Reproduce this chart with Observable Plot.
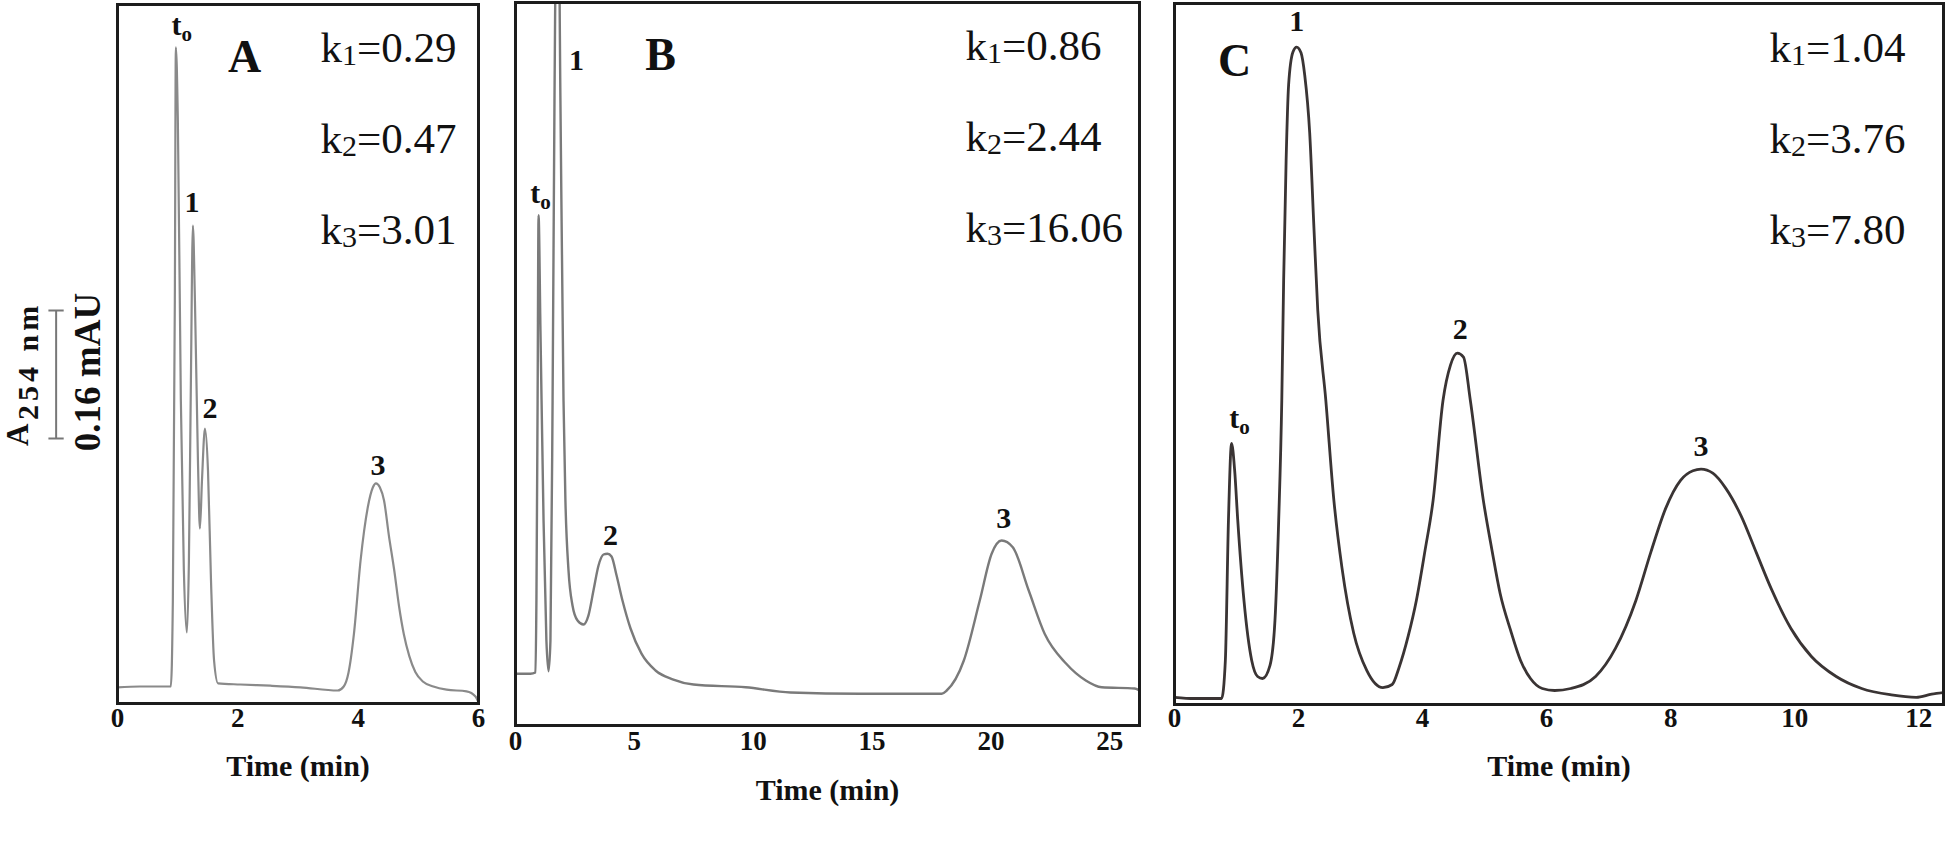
<!DOCTYPE html>
<html>
<head>
<meta charset="utf-8">
<script src="https://cdn.jsdelivr.net/npm/d3@7"></script>
<script src="https://cdn.jsdelivr.net/npm/@observablehq/plot@0.6"></script>
<style>
  html, body { margin: 0; padding: 0; background: #fff; overflow: hidden; }
  #wrap { position: relative; width: 1946px; height: 843px; overflow: hidden; background: #fff; }
  #wrap svg { position: absolute; left: 0; top: 0; }
</style>
</head>
<body>
<div id="wrap"></div>
<script>
// ---------------- DATA ----------------
// Panel A : time (min) and absorbance (mAU above baseline)
const timeA = [0, 0.37, 0.886, 0.92, 0.953, 0.97, 1.003, 1.053, 1.103, 1.153, 1.187, 1.22, 1.253, 1.287, 1.337, 1.37, 1.404, 1.454, 1.504, 1.554, 1.605, 1.671, 2.04, 2.54, 3.04, 3.66, 3.76, 3.84, 3.93, 4.04, 4.16, 4.245, 4.295, 4.36, 4.43, 4.51, 4.60, 4.68, 4.76, 4.85, 4.95, 5.08, 5.25, 5.47, 5.80, 5.95, 6.00];
const absA  = [-0.001, 0, 0, 0.1075, 0.4825, 0.799, 0.7075, 0.3575, 0.145, 0.0675, 0.1575, 0.3825, 0.576, 0.4825, 0.2825, 0.1975, 0.2575, 0.3225, 0.27, 0.1325, 0.0325, 0.004, 0.0025, 0.001, -0.001, -0.005, 0, 0.0175, 0.066, 0.1575, 0.224, 0.249, 0.254, 0.249, 0.2325, 0.189, 0.145, 0.10, 0.065, 0.038, 0.018, 0.006, 0.0, -0.004, -0.006, -0.0125, -0.02];

// Panel B
const timeB = [0, 0.63, 0.84, 0.88, 0.93, 0.97, 1.05, 1.18, 1.30, 1.39, 1.47, 1.56, 1.64, 1.77, 1.89, 2.02, 2.10, 2.23, 2.40, 2.61, 2.86, 3.07, 3.28, 3.49, 3.70, 3.87, 4.04, 4.25, 4.50, 4.84, 5.30, 5.89, 6.61, 7.49, 9.68, 11.57, 14.52, 17.93, 18.14, 18.86, 19.53, 20.03, 20.45, 20.92, 21.59, 22.26, 23.15, 23.99, 24.66, 26.05, 26.25];
const absB  = [0.021, 0.021, 0.0225, 0.1125, 0.3625, 0.594, 0.45, 0.2125, 0.0625, 0.024, 0.0625, 0.3625, 0.7375, 1.1125, 0.7375, 0.3625, 0.2375, 0.15, 0.106, 0.0875, 0.0825, 0.094, 0.125, 0.156, 0.17, 0.171, 0.1675, 0.144, 0.1125, 0.0775, 0.046, 0.025, 0.014, 0.0075, 0.004, -0.0025, -0.004, -0.004, 0, 0.0375, 0.1125, 0.171, 0.1875, 0.179, 0.125, 0.071, 0.034, 0.0125, 0.004, 0.0025, 0];

// Panel C
const timeC = [0, 0.32, 0.76, 0.82, 0.87, 0.92, 0.97, 1.02, 1.12, 1.245, 1.34, 1.42, 1.54, 1.62, 1.68, 1.73, 1.76, 1.80, 1.84, 1.91, 1.97, 2.04, 2.10, 2.18, 2.25, 2.31, 2.44, 2.57, 2.70, 2.89, 3.10, 3.36, 3.51, 3.62, 3.77, 3.90, 4.04, 4.17, 4.33, 4.45, 4.56, 4.66, 4.77, 4.98, 5.12, 5.25, 5.42, 5.58, 5.74, 5.93, 6.13, 6.39, 6.79, 7.11, 7.44, 7.68, 7.92, 8.16, 8.36, 8.49, 8.68, 8.89, 9.14, 9.38, 9.62, 9.94, 10.27, 10.67, 11.08, 11.56, 11.96, 12.21, 12.40];
const absC  = [0.004, 0.0025, 0.0025, 0.05, 0.225, 0.321, 0.2875, 0.225, 0.125, 0.05, 0.03, 0.0275, 0.044, 0.1, 0.225, 0.375, 0.525, 0.675, 0.769, 0.81, 0.816, 0.809, 0.781, 0.709, 0.5875, 0.4875, 0.375, 0.25, 0.166, 0.084, 0.0375, 0.016, 0.02, 0.041, 0.081, 0.125, 0.1875, 0.25, 0.375, 0.419, 0.434, 0.429, 0.375, 0.25, 0.1875, 0.134, 0.0875, 0.05, 0.0275, 0.015, 0.0125, 0.015, 0.03, 0.065, 0.125, 0.185, 0.24, 0.275, 0.287, 0.289, 0.284, 0.265, 0.23, 0.185, 0.14, 0.09, 0.055, 0.03, 0.015, 0.007, 0.004, 0.008, 0.01];

// Peaks (labels, apex time, apex height)
const peakLabels = ["t_o", "1", "2", "3"];
const peakTimeA = [0.97, 1.253, 1.454, 4.295];
const peakAbsA  = [0.799, 0.576, 0.3225, 0.254];
const peakTimeB = [0.97, 1.77, 3.87, 20.45];
const peakAbsB  = [0.594, 1.1125, 0.171, 0.1875];
const peakTimeC = [0.92, 1.97, 4.56, 8.49];
const peakAbsC  = [0.321, 0.816, 0.434, 0.289];

// Retention factors
const kA = ["0.29", "0.47", "3.01"];
const kB = ["0.86", "2.44", "16.06"];
const kC = ["1.04", "3.76", "7.80"];

// Tick labels
const ticksA = [0, 2, 4, 6];
const ticksB = [0, 5, 10, 15, 20, 25];
const ticksC = [0, 2, 4, 6, 8, 10, 12];

const panelLetters = ["A", "B", "C"];
const xLabel = "Time (min)";
const yLabelMain = "A";
const yLabelSub = "254 nm";
const scaleBarText = "0.16 mAU";
const scaleBarSize = 0.16;

// ---------------- LAYOUT ----------------
const W = 1946, H = 843;
const FONT = "'Liberation Serif', 'DejaVu Serif', 'Times New Roman', serif";

const layouts = [
  { frame: {left: 117, right: 478, top: 4, bottom: 703}, xDomain: [0, 6], yDomain: [-0.02125, 0.8525],
    color: "#8a8a8a", lw: 2.2, tickPad: 4, titleDy: 63, letterPos: [127, 53], kPos: [203, 44], kStep: 91,
    labelOff: [[6, -22], [-1, -23], [5, -20], [2, -18]] },
  { frame: {left: 515, right: 1139, top: 2, bottom: 725}, xDomain: [0, 26.25], yDomain: [-0.04375, 0.86],
    color: "#7a7a7a", lw: 2.4, tickPad: 5, titleDy: 65, letterPos: [145, 53], kPos: [450, 44], kStep: 91,
    labelOff: [[2, -22], [19, 260], [3, -18], [2, -22]] },
  { frame: {left: 1174, right: 1943, top: 3, bottom: 704}, xDomain: [0, 12.4], yDomain: [-0.005, 0.8706],
    color: "#3a3434", lw: 2.8, tickPad: 3, titleDy: 62, letterPos: [60, 58], kPos: [595, 45], kStep: 91,
    labelOff: [[8, -25], [0, -26], [3, -24], [0, -23]] }
];

const series = [
  {time: timeA, abs: absA, pt: peakTimeA, pa: peakAbsA, k: kA, ticks: ticksA},
  {time: timeB, abs: absB, pt: peakTimeB, pa: peakAbsB, k: kB, ticks: ticksB},
  {time: timeC, abs: absC, pt: peakTimeC, pa: peakAbsC, k: kC, ticks: ticksC}
];

function addSpan(el, txt, attrs) {
  const s = document.createElementNS("http://www.w3.org/2000/svg", "tspan");
  s.textContent = txt;
  if (attrs) for (const [k, v] of Object.entries(attrs)) s.setAttribute(k, v);
  el.appendChild(s);
}

function decorate(svg) {
  svg.querySelectorAll("text").forEach(el => {
    const s = el.textContent;
    const m = /^k(\d)=(.+)$/.exec(s);
    if (m) {
      el.textContent = "";
      addSpan(el, "k");
      addSpan(el, m[1], {"font-size": "30px", dy: "3"});
      addSpan(el, "=" + m[2], {dy: "-3"});
    } else if (s === "t_o") {
      el.textContent = "";
      addSpan(el, "t");
      addSpan(el, "o", {"font-size": "21px", dy: "6"});
    } else if (s === yLabelSub) {
      el.setAttribute("letter-spacing", "4");
    }
  });
  svg.querySelectorAll('g[aria-label="x-axis tick label"]').forEach(g => g.setAttribute("font-weight", "bold"));
}

const wrap = document.getElementById("wrap");

layouts.forEach((L, p) => {
  const S = series[p];
  const f = L.frame;
  const rows = S.time.map((t, i) => ({t, a: S.abs[i]}));
  const marks = [
    Plot.line(rows, {x: "t", y: "a", stroke: L.color, strokeWidth: L.lw, curve: "monotone-x", clip: true, strokeLinejoin: "round"}),
    Plot.frame({stroke: "#1c1c1c", strokeWidth: 3}),
    Plot.axisX({ticks: S.ticks, tickSize: 0, tickPadding: L.tickPad, fontSize: 27, fontWeight: "bold", label: null, tickFormat: d => String(d), fill: "#111"}),
    Plot.text([xLabel], {text: d => d, frameAnchor: "bottom", lineAnchor: "middle", textAnchor: "middle", dy: L.titleDy, fontSize: 30, fontWeight: "bold", fill: "#111"}),
    Plot.text([panelLetters[p]], {text: d => d, frameAnchor: "top-left", lineAnchor: "middle", textAnchor: "middle", dx: L.letterPos[0], dy: L.letterPos[1], fontSize: 46, fontWeight: "bold", fill: "#111"}),
    ...S.k.map((k, i) => Plot.text([`k${i + 1}=${k}`], {text: d => d, frameAnchor: "top-left", textAnchor: "start", lineAnchor: "middle", dx: L.kPos[0], dy: L.kPos[1] + i * L.kStep, fontSize: 43, fontWeight: "normal", fill: "#111"})),
    ...peakLabels.map((lab, i) => Plot.text([i], {x: j => S.pt[j], y: j => S.pa[j], text: () => lab, lineAnchor: "middle", textAnchor: "middle", dx: L.labelOff[i][0], dy: L.labelOff[i][1], fontSize: 30, fontWeight: "bold", fill: "#111"}))
  ];
  if (p === 0) {
    // scale bar (0.16 mAU) and y label, left of panel A
    const base = 0.31;
    marks.push(
      Plot.ruleX([-1.02], {y1: base, y2: base + scaleBarSize, stroke: "#777", strokeWidth: 2}),
      Plot.ruleY([base, base + scaleBarSize], {x1: -1.14, x2: -0.886, stroke: "#777", strokeWidth: 2}),
      Plot.text([yLabelMain], {text: d => d, frameAnchor: "left", rotate: -90, textAnchor: "start", lineAnchor: "middle", dx: -99, dy: 92, fontSize: 31, fontWeight: "bold", fill: "#111"}),
      Plot.text([yLabelSub], {text: d => d, frameAnchor: "left", rotate: -90, textAnchor: "start", lineAnchor: "middle", dx: -89, dy: 66, fontSize: 30, fontWeight: "bold", fill: "#111"}),
      Plot.text([scaleBarText], {text: d => d, frameAnchor: "left", rotate: -90, textAnchor: "middle", lineAnchor: "middle", dx: -29, dy: 18, fontSize: 37, fontWeight: "bold", fill: "#111"})
    );
  }
  const svg = Plot.plot({
    width: W, height: H,
    marginLeft: f.left, marginRight: W - f.right, marginTop: f.top, marginBottom: H - f.bottom,
    x: {domain: L.xDomain},
    y: {domain: L.yDomain, axis: null},
    style: {background: "transparent", fontFamily: FONT, overflow: "visible"},
    marks
  });
  decorate(svg);
  wrap.appendChild(svg);
});
</script>
</body>
</html>
